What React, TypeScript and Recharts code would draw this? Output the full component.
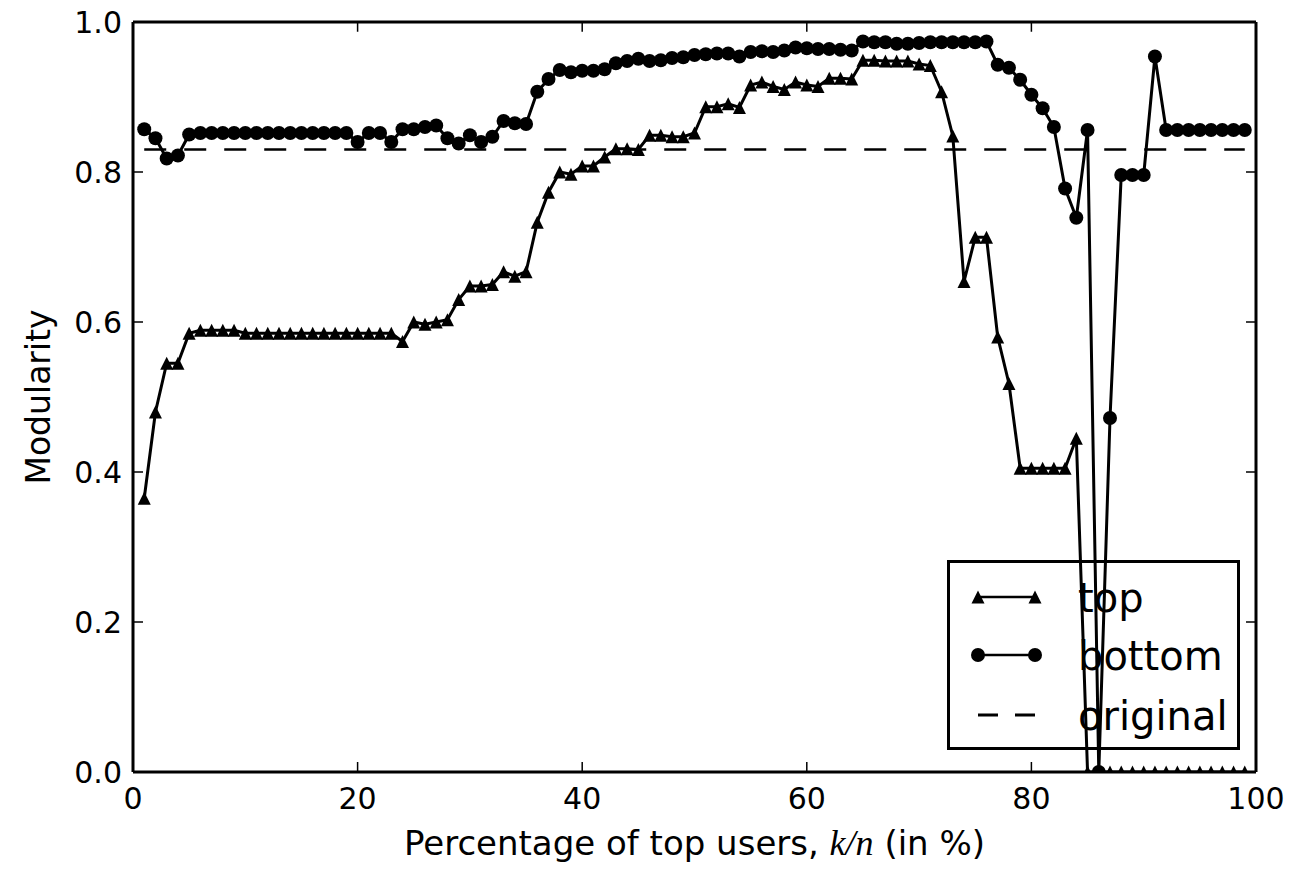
import React from 'react';
import { Legend, Line, LineChart, ReferenceLine, XAxis, YAxis } from 'recharts';

// percentage of top users k/n (x positions)
const percentTop = [
  1, 2, 3, 4, 5, 6, 7, 8, 9, 10, 11, 12, 13, 14, 15, 16, 17, 18, 19, 20,
  21, 22, 23, 24, 25, 26, 27, 28, 29, 30, 31, 32, 33, 34, 35, 36, 37, 38, 39, 40,
  41, 42, 43, 44, 45, 46, 47, 48, 49, 50, 51, 52, 53, 54, 55, 56, 57, 58, 59, 60,
  61, 62, 63, 64, 65, 66, 67, 68, 69, 70, 71, 72, 73, 74, 75, 76, 77, 78, 79, 80,
  81, 82, 83, 84, 85, 86, 87, 88, 89, 90, 91, 92, 93, 94, 95, 96, 97, 98, 99,
];

const topValues = [
  0.365, 0.48, 0.545, 0.545, 0.585, 0.589, 0.589, 0.589, 0.589, 0.585,
  0.585, 0.585, 0.585, 0.585, 0.585, 0.585, 0.585, 0.585, 0.585, 0.585,
  0.585, 0.585, 0.585, 0.574, 0.6, 0.597, 0.6, 0.603, 0.63, 0.648,
  0.648, 0.65, 0.667, 0.661, 0.667, 0.733, 0.773, 0.8, 0.797, 0.808,
  0.808, 0.82, 0.831, 0.831, 0.83, 0.849, 0.849, 0.847, 0.847, 0.852,
  0.887, 0.887, 0.891, 0.886, 0.916, 0.92, 0.914, 0.91, 0.92, 0.916,
  0.914, 0.925, 0.925, 0.924, 0.949, 0.949, 0.948, 0.948, 0.948, 0.944,
  0.942, 0.907, 0.848, 0.654, 0.713, 0.713, 0.58, 0.518, 0.405, 0.405,
  0.405, 0.405, 0.405, 0.445, 0, 0, 0, 0, 0, 0,
  0, 0, 0, 0, 0, 0, 0, 0, 0,
];

const bottomValues = [
  0.857, 0.845, 0.818, 0.822, 0.85, 0.852, 0.852, 0.852, 0.852, 0.852,
  0.852, 0.852, 0.852, 0.852, 0.852, 0.852, 0.852, 0.852, 0.852, 0.84,
  0.852, 0.852, 0.84, 0.857, 0.857, 0.86, 0.862, 0.845, 0.838, 0.849,
  0.84, 0.847, 0.868, 0.865, 0.864, 0.907, 0.924, 0.936, 0.933, 0.935,
  0.935, 0.937, 0.945, 0.948, 0.951, 0.948, 0.949, 0.952, 0.953, 0.956,
  0.957, 0.958, 0.958, 0.954, 0.96, 0.961, 0.96, 0.962, 0.966, 0.965,
  0.964, 0.964, 0.963, 0.962, 0.974, 0.973, 0.973, 0.971, 0.971, 0.972,
  0.973, 0.973, 0.973, 0.973, 0.973, 0.974, 0.943, 0.939, 0.923, 0.903,
  0.885, 0.86, 0.778, 0.739, 0.856, 0, 0.472, 0.796, 0.796, 0.796,
  0.954, 0.856, 0.856, 0.856, 0.856, 0.856, 0.856, 0.856, 0.856,
];

const originalValue = 0.83;

const xTicks = [0, 20, 40, 60, 80, 100];
const yTicks = [0, 0.2, 0.4, 0.6, 0.8, 1.0];

const chartData = percentTop.map((k, i) => ({
  k,
  top: topValues[i],
  bottom: bottomValues[i],
}));

const FONT = 'DejaVu Sans';
const TICK_LEN = 10;

const TriangleDot = (props: any) => {
  const { cx, cy, index } = props;
  if (cx == null || cy == null) return null;
  const s = 6.5;
  return (
    <path
      key={`tri-${index}`}
      d={`M${cx},${cy - s}L${cx + s},${cy + s}L${cx - s},${cy + s}Z`}
      fill="#000"
    />
  );
};

const CircleDot = (props: any) => {
  const { cx, cy, index } = props;
  if (cx == null || cy == null) return null;
  return <circle key={`dot-${index}`} cx={cx} cy={cy} r={7} fill="#000" />;
};

const LeftTick = (props: any) => {
  const { x, y, payload } = props;
  return (
    <g>
      <line x1={x} x2={x + TICK_LEN} y1={y} y2={y} stroke="#000" strokeWidth={1.5} />
      <text x={x - 11} y={y} dy="0.36em" textAnchor="end" fontSize={30} fontFamily={FONT} fill="#000">
        {Number(payload.value).toFixed(1)}
      </text>
    </g>
  );
};

const BottomTick = (props: any) => {
  const { x, y, payload } = props;
  return (
    <g>
      <line x1={x} x2={x} y1={y} y2={y - TICK_LEN} stroke="#000" strokeWidth={1.5} />
      <text x={x} y={y + 37} textAnchor="middle" fontSize={30} fontFamily={FONT} fill="#000">
        {payload.value}
      </text>
    </g>
  );
};

const renderXLabel = (props: any) => {
  const { viewBox } = props;
  const cx = viewBox.x + viewBox.width / 2;
  return (
    <text x={cx} y={viewBox.y + 83} textAnchor="middle" fontSize={34} fontFamily={FONT} fill="#000">
      Percentage of top users,{' '}
      <tspan fontFamily="Liberation Serif" fontStyle="italic" fontSize={36}>
        k/n
      </tspan>{' '}
      (in %)
    </text>
  );
};

const renderYLabel = (props: any) => {
  const { viewBox } = props;
  const cy = viewBox.y + viewBox.height / 2;
  return (
    <text
      x={50}
      y={cy}
      transform={`rotate(-90, 50, ${cy})`}
      textAnchor="middle"
      fontSize={33}
      fontFamily={FONT}
      fill="#000"
    >
      Modularity
    </text>
  );
};

const renderLegend = () => (
  <div
    style={{
      width: 293,
      height: 190,
      boxSizing: 'border-box',
      border: '3px solid #000',
      position: 'relative',
    }}
  >
    <svg width={287} height={184} style={{ position: 'absolute', left: 0, top: 0 }}>
      <line x1={28} x2={85} y1={34} y2={34} stroke="#000" strokeWidth={2.5} />
      <TriangleDot cx={28} cy={34} index={0} />
      <TriangleDot cx={85} cy={34} index={1} />
      <text x={128} y={49} fontSize={40} fontFamily={FONT} fill="#000">top</text>

      <line x1={28} x2={85} y1={92} y2={92} stroke="#000" strokeWidth={2.5} />
      <CircleDot cx={28} cy={92} index={0} />
      <CircleDot cx={85} cy={92} index={1} />
      <text x={128} y={107} fontSize={40} fontFamily={FONT} fill="#000">bottom</text>

      <line x1={28} x2={85} y1={152} y2={152} stroke="#000" strokeWidth={3} strokeDasharray="20 17" />
      <text x={128} y={167} fontSize={40} fontFamily={FONT} fill="#000">original</text>
    </svg>
  </div>
);

const App: React.FC = () => {
  return (
    <div style={{ position: 'absolute', left: 0, top: 0, background: '#fff' }}>
      <LineChart
        width={1300}
        height={872}
        data={chartData}
        margin={{ top: 22, right: 44, bottom: 0, left: 0 }}
      >
        <XAxis
          dataKey="k"
          type="number"
          domain={[0, 100]}
          ticks={xTicks}
          interval={0}
          allowDataOverflow
          height={100}
          tickSize={0}
          tickMargin={0}
          tick={BottomTick}
          axisLine={{ stroke: '#000', strokeWidth: 3 }}
          label={renderXLabel}
        />
        <YAxis
          type="number"
          domain={[0, 1]}
          ticks={yTicks}
          interval={0}
          allowDataOverflow
          width={133}
          tickSize={0}
          tickMargin={0}
          tick={LeftTick}
          axisLine={{ stroke: '#000', strokeWidth: 3 }}
          label={renderYLabel}
        />
        {/* frame: top and right spines with inward ticks */}
        <ReferenceLine y={1} stroke="#000" strokeWidth={3} ifOverflow="visible" />
        <ReferenceLine x={100} stroke="#000" strokeWidth={3} ifOverflow="visible" />
        {xTicks.map((t) => (
          <ReferenceLine
            key={`tt-${t}`}
            segment={[
              { x: t, y: 1 },
              { x: t, y: 0.987 },
            ]}
            stroke="#000"
            strokeWidth={1.5}
            ifOverflow="visible"
          />
        ))}
        {yTicks.map((t) => (
          <ReferenceLine
            key={`rt-${t}`}
            segment={[
              { x: 100, y: t },
              { x: 99.11, y: t },
            ]}
            stroke="#000"
            strokeWidth={1.5}
            ifOverflow="visible"
          />
        ))}
        <Line
          dataKey="top"
          name="top"
          stroke="#000"
          strokeWidth={3}
          dot={TriangleDot}
          activeDot={false}
          isAnimationActive={false}
        />
        <Line
          dataKey="bottom"
          name="bottom"
          stroke="#000"
          strokeWidth={3}
          dot={CircleDot}
          activeDot={false}
          isAnimationActive={false}
        />
        <ReferenceLine
          segment={[
            { x: percentTop[0], y: originalValue },
            { x: percentTop[percentTop.length - 1], y: originalValue },
          ]}
          stroke="#000"
          strokeWidth={2.5}
          strokeDasharray="22 18"
        />
        <Legend
          layout="vertical"
          align="center"
          verticalAlign="middle"
          content={renderLegend}
          wrapperStyle={{ left: 947, top: 560, width: 293, height: 190 }}
        />
      </LineChart>
    </div>
  );
};

export default App;
